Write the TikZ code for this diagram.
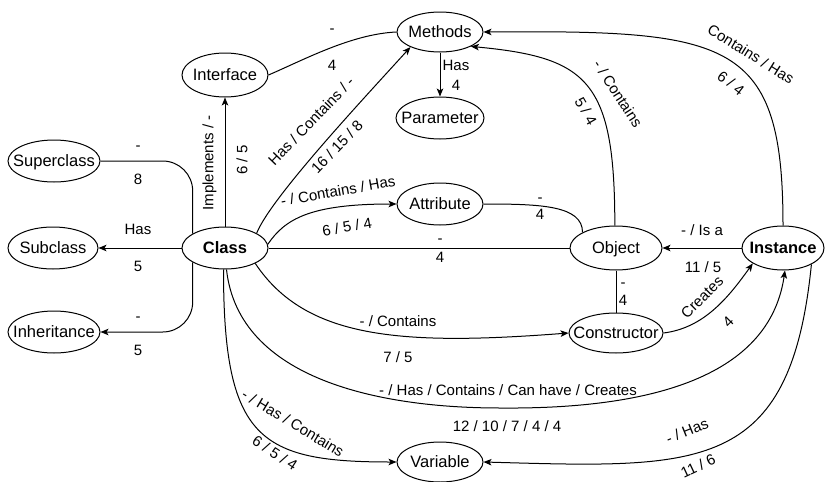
\documentclass[tikz,border=0pt]{standalone}
\usepackage{fontspec}
\setmainfont{Liberation Sans}
\usetikzlibrary{arrows.meta,shapes.geometric}

% node text is boxed at zero width so the ellipse keeps its own size
\newcommand\ctxt[1]{\makebox[0pt][c]{#1}}

\begin{document}
\begin{tikzpicture}[x=1pt,y=-1pt,
  concept/.style={draw, ellipse, line width=1pt, inner sep=0pt,
    text height=11.8pt, text depth=0pt,
    font=\fontsize{16.5}{19}\selectfont},
  link/.style={line width=1pt},
  arr/.style={link, -{Stealth[length=8pt,width=6.5pt,inset=2pt]}},
  lbl/.style={font=\fontsize{15}{18}\selectfont, inner sep=0pt,
    text height=10.7pt, text depth=0pt},
]
\useasboundingbox (0,0) rectangle (825,482);

% concepts
\node[concept, minimum width=92pt, minimum height=42pt] (superclass)  at (54,161)  {\ctxt{Superclass}};
\node[concept, minimum width=90pt, minimum height=42pt] (subclass)    at (53,248)  {\ctxt{Subclass}};
\node[concept, minimum width=92pt, minimum height=42pt] (inheritance) at (54,332)  {\ctxt{Inheritance}};
\node[concept, minimum width=86pt, minimum height=42pt] (class)       at (225,248) {\ctxt{\bfseries Class}};
\node[concept, minimum width=86pt, minimum height=44pt] (interface)   at (225,75)  {\ctxt{Interface}};
\node[concept, minimum width=86pt, minimum height=40pt] (methods)     at (440,32)  {\ctxt{Methods}};
\node[concept, minimum width=88pt, minimum height=42pt] (parameter)   at (440,118) {\ctxt{Parameter}};
\node[concept, minimum width=86pt, minimum height=42pt] (attribute)   at (440,204) {\ctxt{Attribute}};
\node[concept, minimum width=92pt, minimum height=44pt] (object)      at (616,248) {\ctxt{Object}};
\node[concept, minimum width=82pt, minimum height=44pt] (instance)    at (783,248) {\ctxt{\bfseries Instance}};
\node[concept, minimum width=94pt, minimum height=40pt] (constructor) at (616,333) {\ctxt{Constructor}};
\node[concept, minimum width=86pt, minimum height=40pt] (variable)    at (440,462) {\ctxt{Variable}};

% Class and its hierarchy
\draw[link, rounded corners=30pt] (class.156) |- (superclass.east)
  node[lbl] (l1a) at (138,145) {-}
  node[lbl] (l1b) at (138,179) {8};
\draw[arr] (class.west) -- (subclass.east)
  node[lbl] (l2a) at (138,229) {Has}
  node[lbl] (l2b) at (138,266) {5};
\draw[arr, rounded corners=30pt] (class.204) |- (inheritance.east)
  node[lbl] (l3a) at (138,316) {-}
  node[lbl] (l3b) at (138,350) {5};

% Class upwards
\draw[arr] (class.north) -- (interface.south)
  node[lbl, rotate=90] (l4a) at (208,163) {Implements / -}
  node[lbl, rotate=90] (l4b) at (242,160) {6 / 5};
\draw[arr] (class.25) .. controls +(14,-35) and +(-50,55) .. (methods.207)
  node[lbl, rotate=46] (l5a) at (311,121) {Has / Contains / -}
  node[lbl, rotate=46] (l5b) at (337,147) {16 / 15 / 8};
\draw[link] (interface.east) .. controls +(35,-15) and +(-45,2) .. (methods.west)
  node[lbl] (l6a) at (332,28) {-}
  node[lbl] (l6b) at (332,65) {4};
\draw[arr] (methods.south) -- (parameter.north)
  node[lbl] (l7a) at (456,65) {Has}
  node[lbl] (l7b) at (456,85) {4};

% into Methods from the right
\draw[arr] (object.93) .. controls +(0,-145) and +(117,11) .. (methods.-25)
  node[lbl, rotate=-57] (l8a) at (618,94) {- / Contains}
  node[lbl, rotate=-60] (l8b) at (586,111) {5 / 4};
\draw[arr] (instance.north) .. controls +(0,-186) and +(247,-2) .. (methods.east)
  node[lbl, rotate=-32] (l9a) at (751,54) {Contains / Has}
  node[lbl, rotate=-38] (l9b) at (731,83) {6 / 4};

% middle row
\draw[arr] (class.5) .. controls +(17,-25) and +(-87,0) .. (attribute.west)
  node[lbl, rotate=10] (l10a) at (338,191) {- / Contains / Has}
  node[lbl, rotate=10] (l10b) at (347,227) {6 / 5 / 4};
\draw[link] (attribute.east) .. controls +(57,0) and +(0,-27) .. (object.155)
  node[lbl] (l11a) at (540,197) {-}
  node[lbl] (l11b) at (540,214) {4};
\draw[link] (class.east) -- (object.west)
  node[lbl] (l12a) at (440,238) {-}
  node[lbl] (l12b) at (440,257) {4};
\draw[arr] (instance.west) -- (object.east)
  node[lbl] (l13a) at (702,230) {- / Is a}
  node[lbl] (l13b) at (703,267) {11 / 5};
\draw[link] (object.south) -- (constructor.north)
  node[lbl] (l14a) at (623,282) {-}
  node[lbl] (l14b) at (623,300) {4};

% lower sweep
\draw[arr] (class.-27) .. controls +(50,75) and +(-169,13) .. (constructor.west)
  node[lbl] (l15a) at (398,321) {- / Contains}
  node[lbl] (l15b) at (398,357) {7 / 5};
\draw[arr] (constructor.east) .. controls +(40,-5) and +(-25,35) .. (instance.207)
  node[lbl, rotate=45] (l16a) at (702,297) {Creates}
  node[lbl, rotate=45] (l16b) at (728,322) {4};
\draw[arr] (class.-86) .. controls +(12,110) and +(-120,0) .. (500,408)
  .. controls +(220,2) and +(-10,69) .. (instance.-85)
  node[lbl] (l17a) at (508,390) {- / Has / Contains / Can have / Creates}
  node[lbl] (l17b) at (507,426) {12 / 10 / 7 / 4 / 4};
\draw[arr] (class.-94) .. controls +(0,170) and +(-137,0) .. (variable.west)
  node[lbl, rotate=-31] (l18a) at (293,423) {- / Has / Contains}
  node[lbl, rotate=-33] (l18b) at (275,453) {6 / 5 / 4};
\draw[arr] (instance.-30) .. controls +(-21,210) and +(216,6) .. (variable.east)
  node[lbl, rotate=22] (l19a) at (687,431) {- / Has}
  node[lbl, rotate=25] (l19b) at (698,466) {11 / 6};
\end{tikzpicture}
\end{document}
